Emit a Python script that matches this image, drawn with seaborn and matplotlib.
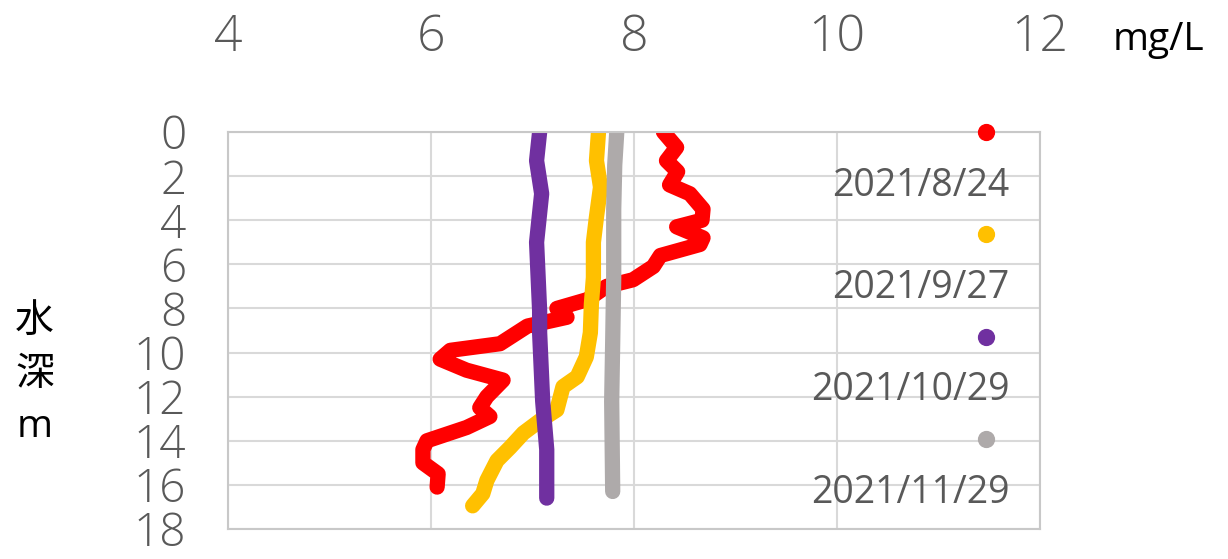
import matplotlib
matplotlib.use("Agg")
import seaborn as sns
from matplotlib import pyplot as plt

sns.set_style("white")
plt.rcParams['font.family'] = ['Open Sans', 'Noto Sans CJK JP', 'DejaVu Sans']

# dissolved oxygen profiles (mg/L) vs depth (m)
dates = ["2021/8/24", "2021/9/27", "2021/10/29", "2021/11/29"]
colors = ["#FF0000", "#FFC000", "#7030A0", "#AEAAAA"]

red_do = [8.29, 8.42, 8.32, 8.43, 8.35, 8.55, 8.68, 8.67, 8.42, 8.68, 8.65, 8.26, 8.19,
          7.99, 7.73, 7.54, 7.24, 7.34, 6.95, 6.68, 6.19, 6.09, 6.35, 6.71, 6.55, 6.48,
          6.58, 6.35, 5.96, 5.92, 5.92, 6.07, 6.06]
red_depth = [0.0, 0.7, 1.3, 1.8, 2.4, 2.8, 3.5, 4.0, 4.3, 4.8, 5.1, 5.6, 6.1,
             6.7, 7.0, 7.6, 8.0, 8.4, 8.8, 9.6, 9.9, 10.3, 10.8, 11.25, 12.0, 12.5,
             12.9, 13.4, 14.0, 14.4, 15.0, 15.5, 16.1]

yel_do = [7.65, 7.63, 7.67, 7.63, 7.60, 7.60, 7.58, 7.57, 7.53, 7.44, 7.30, 7.24,
          7.07, 6.91, 6.78, 6.65, 6.55, 6.51, 6.41]
yel_depth = [0.0, 1.3, 2.5, 3.85, 5.0, 6.6, 7.8, 9.1, 10.2, 11.1, 11.55, 12.6,
             13.1, 13.65, 14.3, 14.9, 15.8, 16.4, 16.95]

pur_do = [7.07, 7.04, 7.09, 7.04, 7.07, 7.07, 7.10, 7.14, 7.14]
pur_depth = [0.0, 1.3, 2.8, 5.0, 8.1, 9.1, 12.2, 14.4, 16.6]

gry_do = [7.83, 7.81, 7.80, 7.80, 7.79, 7.78, 7.79]
gry_depth = [0.0, 1.5, 3.5, 6.6, 9.5, 12.2, 16.3]

series = [(red_do, red_depth), (yel_do, yel_depth), (pur_do, pur_depth), (gry_do, gry_depth)]

fig = plt.figure(figsize=(12.28, 5.59), dpi=100)
ax = fig.add_axes([0.1857, 0.0537, 0.6612, 0.7102])

for (xs, ys), col in zip(series, colors):
    sns.lineplot(x=xs, y=ys, sort=False, estimator=None, ax=ax, color=col, lw=11,
                 solid_capstyle="round", solid_joinstyle="round")

ax.set_xlim(4, 12)
ax.set_ylim(18, 0)
ax.set_xticks([4, 6, 8, 10, 12])
ax.set_yticks(range(0, 19, 2))
ax.xaxis.tick_top()
ax.tick_params(axis="x", length=0, pad=50, labelsize=36, labelcolor="#595959")
ax.tick_params(axis="y", length=0, pad=30, labelsize=33, labelcolor="#595959")
for lab in ax.get_xticklabels() + ax.get_yticklabels():
    lab.set_fontweight("light")
ax.grid(True, color="#D9D9D9", lw=1.5)
for s in ax.spines.values():
    s.set_color("#C8C8C8")
    s.set_linewidth(1.5)
ax.set_xlabel(None)
ax.set_ylabel(None)

# legend: marker above label, drawn in axes coords
mark_y = [0.0, 0.258, 0.516, 0.774]
for i, (d, col) in enumerate(zip(dates, colors)):
    yy = 1 - mark_y[i]
    ax.scatter([0.933], [yy], s=130, color=col, transform=ax.transAxes, clip_on=False, zorder=5)
    ax.text(0.962, yy - 0.135, d, transform=ax.transAxes, ha="right", va="center",
            fontsize=27, color="#595959")

fig.text(0.943, 0.928, "mg/L", fontsize=28, color="black", ha="center", va="center")
fig.text(0.028, 0.33, "水\n深\nm", fontsize=28, color="black", ha="center", va="center",
         linespacing=1.5)

plt.savefig("out.png", dpi=100)
